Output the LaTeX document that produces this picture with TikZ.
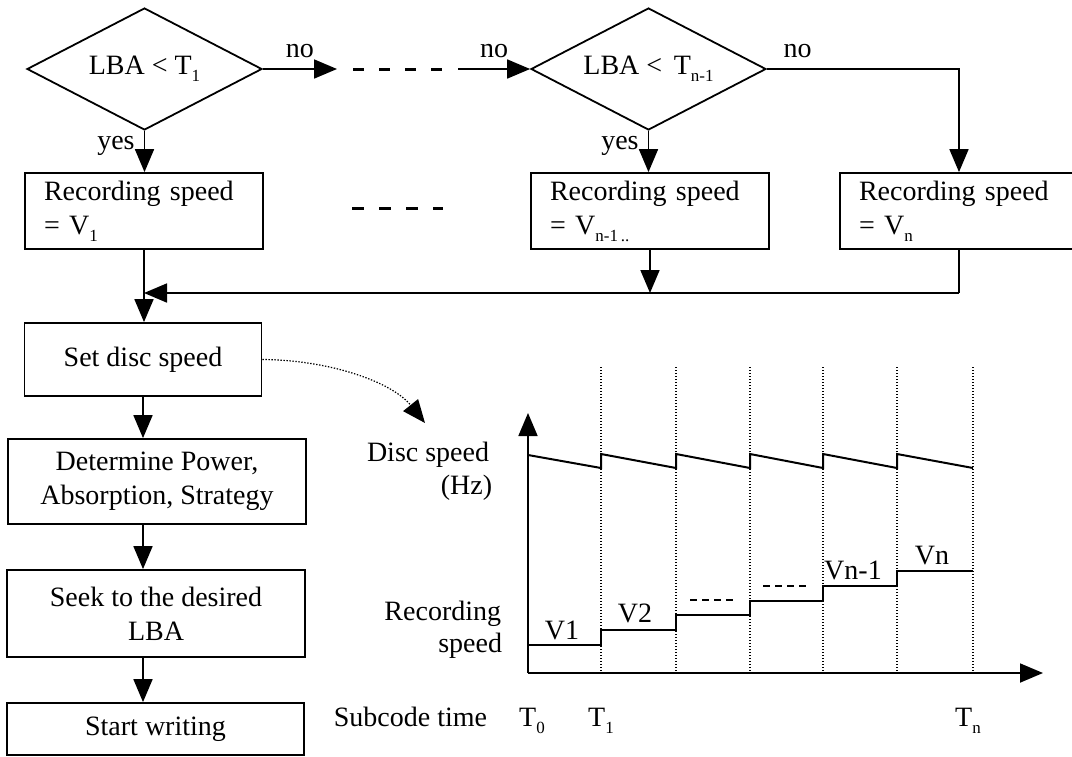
\documentclass[tikz,border=0pt]{standalone}
\usepackage{fontspec}
\setmainfont{Liberation Serif}
\usetikzlibrary{shapes.geometric,arrows.meta,calc}
\newcommand\sbs[1]{\raisebox{-7pt}{\fontsize{17}{17}\selectfont #1}}
\begin{document}
\begin{tikzpicture}[x=1pt,y=-1pt,
  font=\fontsize{28}{34}\selectfont,
  line width=1.8pt,
  arr/.style={-{Triangle[length=23pt,width=19pt]}},
  dec/.style={diamond, draw, aspect=2, inner sep=0pt, minimum width=235pt, minimum height=122pt},
  rbox/.style={draw, rectangle, minimum width=238pt, minimum height=76pt, text width=200pt, align=left, inner xsep=19pt, inner ysep=0pt},
  cbox/.style={draw, rectangle, align=center, inner sep=0pt},
  lbl/.style={inner sep=0pt},
  bigdash/.style={line width=3pt, dash pattern=on 11pt off 15pt},
  smalldash/.style={line width=1.8pt, dash pattern=on 7pt off 5pt},
  grid/.style={line width=1.2pt, dash pattern=on 1.4pt off 1.6pt},
  curve/.style={line width=2pt}
]
\path[use as bounding box, clip] (0,0) rectangle (1072,756);

% decisions
\node[dec] (d1) at (144.5,69) {LBA < T\sbs{1}};
\node[dec] (d2) at (648.5,69) {LBA <\, T\sbs{n-1}};

% recording speed boxes
\node[rbox] (b1) at (144,211) {Recording speed\\= V\sbs{1}};
\node[rbox] (b2) at (650,211) {Recording speed\\= V\sbs{n-1\,..}};
\node[rbox] (b3) at (959,211) {Recording speed\\= V\sbs{n}};

% lower flow
\node[cbox, minimum width=237pt, minimum height=73pt] (sd) at (143,359.5) {Set disc speed};
\node[cbox, minimum width=298pt, minimum height=85pt] (dp) at (157,481.5) {Determine Power,\\Absorption, Strategy};
\node[cbox, minimum width=298pt, minimum height=87pt] (sk) at (156,613.5) {Seek to the desired\\LBA};
\node[cbox, minimum width=297pt, minimum height=52pt] (sw) at (155.5,729) {Start writing};

% top row connectors
\coordinate (a1) at (337,69);
\draw[arr] (d1.east) -- (a1) node[lbl, midway, above=10pt] {no};
\coordinate (ds1) at (353,69);
\coordinate (ds2) at (443,69);
\draw[bigdash] (ds1) -- (ds2);
\coordinate (a2s) at (458,69);
\draw[arr] (a2s) -- (d2.west) node[lbl, midway, above=10pt] {no};
\draw[arr] (d2.east) -| (b3.north) node[lbl, pos=0.08, above=10pt] {no};

\draw[arr] (d1.south) -- (d1.south |- b1.north) node[lbl, pos=0.36, left=9pt] {yes};
\draw[arr] (d2.south) -- (d2.south |- b2.north) node[lbl, pos=0.36, left=9pt] {yes};

% middle dashes
\coordinate (md1) at (352,208);
\coordinate (md2) at (443,208);
\draw[bigdash, dash pattern=on 12pt off 15pt] (md1) -- (md2);

% merge
\coordinate (m) at (959,293);
\draw (b3.south) -- (m);
\draw[arr] (m) -- (b1.south |- m);
\draw[arr] (b2.south) -- (b2.south |- m);
\draw[arr] (b1.south) -- (b1.south |- sd.north);

\draw[arr] (sd.south) -- (sd.south |- dp.north);
\draw[arr] (sd.south |- dp.south) -- (sd.south |- sk.north);
\draw[arr] (sd.south |- sk.south) -- (sd.south |- sw.north);

% dotted pointer
\coordinate (ct) at (425,423);
\draw[arr, line width=1.2pt, dash pattern=on 1.4pt off 1.6pt] (sd.east) .. controls (330,360) and (392,382) .. (ct);

% chart
\coordinate (O) at (528,673);
\coordinate (ytop) at (528,413);
\coordinate (xend) at (1043,673);
\foreach \x in {601,676,750,823,897,973} \draw[grid] (\x,367) -- (\x,673);
\draw[arr] (O) -- (ytop);
\draw[arr] (O) -- (xend);

\draw[curve] (528,455) -- (601,468) -- (601,454) -- (676,468) -- (676,454) -- (750,468) -- (750,454)
  -- (823,468) -- (823,454) -- (897,468) -- (897,454) -- (973,468);
\draw[curve] (528,645) -- (601,645) -- (601,630) -- (676,630) -- (676,615) -- (750,615) -- (750,601)
  -- (823,601) -- (823,586) -- (897,586) -- (897,571) -- (973,571);

\draw[smalldash] (690,600) -- (735,600);
\draw[smalldash] (763,586) -- (808,586);

\node[lbl] (lv1) at (562,630) {V1};
\node[lbl] (lv2) at (635,613) {V2};
\node[lbl] (lvn1) at (853,570) {Vn-1};
\node[lbl] (lvn) at (932,556) {Vn};

\node[lbl, anchor=east] (lds) at (490,455) {Disc speed};
\node[lbl, anchor=east] (lhz) at (493,488) {(Hz)};
\node[lbl, anchor=east] (lrec) at (502,614) {Recording};
\node[lbl, anchor=east] (lsp) at (503,646) {speed};
\node[lbl, anchor=west] (lsub) at (333,717) {Subcode time};
\node[lbl, anchor=base] (t0) at (532,726) {T\sbs{0}};
\node[lbl, anchor=base] (t1) at (601,726) {T\sbs{1}};
\node[lbl, anchor=base] (tn) at (968,726) {T\sbs{n}};
\end{tikzpicture}
\end{document}
